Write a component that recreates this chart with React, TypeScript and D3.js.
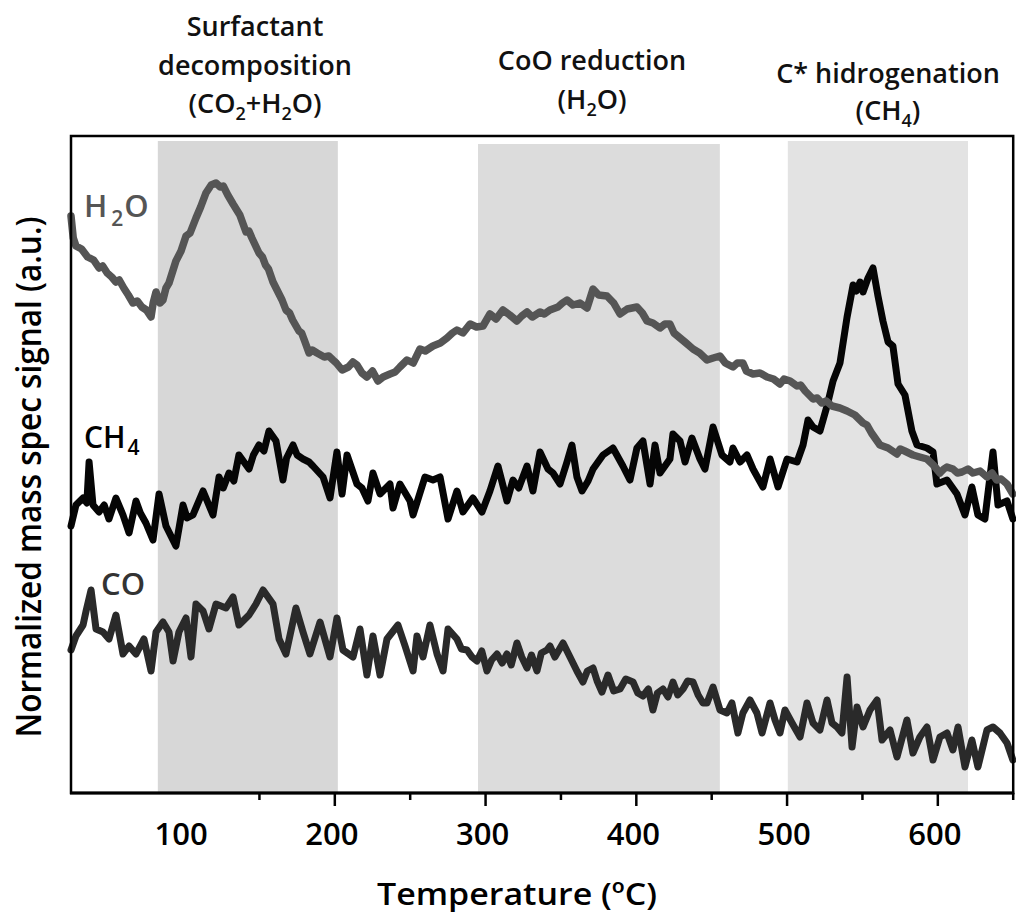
import React from "react";
import * as d3 from "d3";

const W = 1016;
const H = 914;

// Temperature (ºC) vs normalized signal (a.u.)
const h2oData: [number, number][] = [
  [25, 5.77], [26.5, 5.55], [28.3, 5.47], [32, 5.44], [36, 5.36], [40, 5.33], [43.6, 5.25], [46, 5.27], [49, 5.2], [52, 5.16],
  [54.8, 5.11], [57, 5.13], [60, 5.05], [63, 4.98], [66.1, 4.9], [69, 4.92], [72, 4.86], [75, 4.83], [78.1, 4.76], [79.5, 4.9],
  [81.4, 5.01], [84, 4.9], [86, 4.93], [88, 5.05], [90, 5.1], [94.6, 5.32], [98, 5.42], [101.3, 5.57], [104, 5.6], [107.9, 5.75],
  [111, 5.86], [114.5, 6.0], [118, 6.08], [121.2, 6.1], [124, 6.06], [126, 6.07], [129, 5.98], [132.5, 5.89], [137, 5.78],
  [141.1, 5.61], [143, 5.62], [145, 5.55], [149.7, 5.4], [152, 5.36], [154, 5.28], [156, 5.24], [159, 5.11], [163, 4.99],
  [165, 4.93], [167.6, 4.83], [170, 4.8], [172, 4.73], [176.2, 4.62], [178, 4.6], [180, 4.52], [182.9, 4.4], [185, 4.43],
  [188.2, 4.4], [193, 4.36], [196, 4.37], [198.8, 4.33], [201, 4.3], [204.8, 4.23], [209, 4.26], [212, 4.31], [214.7, 4.28],
  [218, 4.2], [221.3, 4.16], [225, 4.22], [228.6, 4.12], [232, 4.16], [236.6, 4.19], [240, 4.21], [243.2, 4.26], [247.9, 4.33],
  [252, 4.3], [256.5, 4.44], [260, 4.42], [265.1, 4.47], [270, 4.5], [274.4, 4.55], [278, 4.6], [281, 4.63], [285, 4.6],
  [289.7, 4.69], [294, 4.66], [298.3, 4.67], [302.9, 4.79], [307, 4.74], [311.5, 4.83], [316, 4.78], [320.8, 4.72],
  [324, 4.77], [327.5, 4.81], [331, 4.76], [336.1, 4.81], [339, 4.79], [342.7, 4.83], [348, 4.86], [351, 4.9], [354, 4.93],
  [358, 4.88], [362.6, 4.9], [367.3, 4.85], [371.3, 5.04], [375, 4.98], [380.5, 4.97], [385, 4.9], [389.2, 4.79], [394, 4.84],
  [400.4, 4.86], [404, 4.8], [407.1, 4.72], [411, 4.7], [415.7, 4.65], [419, 4.69], [422.3, 4.69], [425, 4.6], [429, 4.55],
  [433, 4.5], [437.6, 4.44], [442, 4.4], [446.9, 4.33], [451, 4.35], [455.5, 4.37], [459, 4.3], [464.1, 4.26], [467, 4.3],
  [470.7, 4.3], [473, 4.22], [477.4, 4.19], [482, 4.2], [486.7, 4.16], [491, 4.14], [495.3, 4.09], [498, 4.14], [502, 4.12],
  [506.6, 4.07], [509, 4.08], [512, 4.02], [517.2, 3.94], [520, 3.95], [523, 3.9], [526, 3.92], [529.8, 3.87], [535, 3.85],
  [539.8, 3.82], [545, 3.78], [550.4, 3.7], [553, 3.68], [556, 3.6], [561.6, 3.48], [567, 3.45], [572.9, 3.39], [575, 3.44],
  [578, 3.42], [583.5, 3.38], [588, 3.36], [592.8, 3.34], [597, 3.28], [601.4, 3.2], [604, 3.24], [606, 3.26], [610, 3.24],
  [613, 3.2], [616, 3.21], [620, 3.24], [623.3, 3.2], [628, 3.22], [632.6, 3.16], [636, 3.2], [639, 3.13], [642, 3.14],
  [645.9, 3.09], [649.8, 2.99],
];

const ch4Data: [number, number][] = [
  [25, 2.67], [28.3, 2.88], [33, 2.95], [35.5, 2.9], [37, 3.31], [39.6, 2.88], [43.6, 2.81], [47, 2.88], [50.2, 2.74],
  [54.8, 2.95], [59.5, 2.78], [63.5, 2.6], [68.1, 2.92], [71, 2.8], [74.7, 2.7], [79.4, 2.53], [83.4, 2.99], [88, 2.67],
  [94.6, 2.47], [99.3, 2.88], [102, 2.75], [105.9, 2.78], [112.6, 3.02], [119.2, 2.78], [123.2, 3.16], [126, 3.05],
  [129.8, 3.2], [133, 3.12], [136.4, 3.38], [143.1, 3.24], [146, 3.38], [149.7, 3.48], [153, 3.42], [156.3, 3.62], [161, 3.52],
  [165.6, 3.13], [168, 3.35], [172.3, 3.48], [175, 3.38], [178.9, 3.34], [182.9, 3.31], [185.5, 3.27], [192.2, 3.16],
  [196.8, 2.95], [201.4, 3.41], [204.8, 2.99], [208.1, 3.38], [214.7, 3.09], [218, 3.05], [222, 2.92], [225.3, 3.2], [230, 2.99],
  [236.6, 3.09], [238.6, 2.85], [243.2, 3.09], [249.9, 2.92], [251.9, 2.78], [259.8, 3.16], [265.1, 3.13], [269.8, 3.16],
  [275.1, 2.74], [281, 3.02], [285, 2.81], [291.6, 2.95], [297.6, 2.81], [302.9, 3.02], [308.2, 3.27], [314.2, 2.92],
  [318.2, 3.13], [322, 3.05], [327.5, 3.27], [331.4, 3.02], [336.1, 3.41], [341.4, 3.24], [344.7, 3.2], [349.4, 3.09],
  [354, 3.31], [357.3, 3.48], [360.6, 3.16], [364, 3.02], [368, 3.12], [371.3, 3.24], [377.9, 3.38], [384.5, 3.45],
  [391.1, 3.27], [395.8, 3.13], [400.4, 3.45], [404.4, 3.52], [409.1, 3.09], [412.4, 3.48], [415.7, 3.2], [422.3, 3.34],
  [424.3, 3.59], [429, 3.52], [432.3, 3.31], [436.9, 3.55], [442.2, 3.34], [445.5, 3.24], [450.9, 3.66], [456.8, 3.38],
  [462.1, 3.31], [464.1, 3.45], [468.8, 3.31], [473.4, 3.38], [477.4, 3.24], [484, 3.06], [488.7, 3.34], [494, 3.06],
  [500, 3.34], [506.6, 3.31], [510.6, 3.48], [513.9, 3.73], [517.2, 3.66], [521.8, 3.62], [526.5, 3.87], [530.5, 4.12],
  [535.1, 4.3], [539.8, 4.76], [543.8, 5.08], [546, 5.02], [548.4, 5.11], [550.4, 5.01], [553.7, 5.15], [557, 5.25],
  [560.3, 4.97], [563.6, 4.72], [567, 4.51], [570.2, 4.47], [573.6, 4.09], [578.2, 3.98], [582.8, 3.62], [586.2, 3.48],
  [592.8, 3.45], [596.8, 3.41], [599.4, 3.09], [606.1, 3.13], [612.7, 2.99], [618, 2.78], [622.6, 3.06], [626.6, 2.78],
  [631.2, 2.74], [636.6, 3.41], [639.9, 2.88], [645.9, 2.92], [649.8, 2.74],
];

const coData: [number, number][] = [
  [25, 1.43], [28.3, 1.57], [33, 1.68], [35, 1.82], [38.3, 2.03], [41.6, 1.64], [46.2, 1.61], [50.2, 1.54], [54.8, 1.78],
  [59.5, 1.39], [63.5, 1.47], [68.1, 1.39], [73.4, 1.54], [78.1, 1.22], [81.4, 1.61], [86, 1.71], [90, 1.61], [92.7, 1.32],
  [96.6, 1.61], [101.3, 1.75], [104.6, 1.36], [107.9, 1.89], [112.6, 1.82], [116.5, 1.64], [121.2, 1.89], [127.8, 1.85],
  [132.5, 1.96], [136.4, 1.68], [143.1, 1.78], [147.7, 1.89], [152.4, 2.03], [159, 1.89], [163, 1.54], [167.6, 1.39],
  [174.2, 1.85], [178.9, 1.61], [183.5, 1.39], [190.2, 1.71], [196.8, 1.36], [201.4, 1.75], [205.4, 1.43], [212.1, 1.36],
  [216.7, 1.64], [221.3, 1.18], [225.3, 1.57], [230, 1.18], [234.6, 1.54], [241.9, 1.68], [246.6, 1.47], [251.9, 1.22],
  [254.5, 1.57], [258.5, 1.36], [263.1, 1.68], [267.8, 1.39], [271.8, 1.22], [275.1, 1.64], [281, 1.54], [284, 1.44],
  [287.7, 1.43], [291, 1.36], [294.3, 1.32], [297.5, 1.42], [300.9, 1.22], [304, 1.33], [307.6, 1.39], [311, 1.3],
  [314.2, 1.39], [317, 1.28], [320.8, 1.5], [324, 1.36], [327.5, 1.25], [330.5, 1.38], [334.1, 1.22], [337, 1.4],
  [340.7, 1.43], [342.7, 1.47], [346, 1.36], [351.4, 1.5], [356, 1.36], [360.6, 1.22], [364.6, 1.11], [367.5, 1.22],
  [371.3, 1.25], [374, 1.12], [377.2, 1.01], [381.2, 1.18], [385, 1.02], [389.2, 1.04], [393, 1.14], [397.8, 1.11],
  [401, 1.0], [404.4, 0.97], [408, 1.04], [411, 0.83], [414, 1.0], [417.7, 1.04], [421, 0.96], [424.3, 1.11], [427.5, 0.98],
  [431, 1.04], [434, 1.12], [437.6, 1.11], [441, 0.98], [444.2, 0.9], [446.9, 0.9], [450.9, 1.06], [455.5, 0.83], [460.1, 0.8],
  [463.4, 0.9], [467.4, 0.6], [470.7, 0.8], [475.4, 0.93], [480, 0.8], [483.4, 0.6], [488.7, 0.9], [492, 0.73], [495.3, 0.6],
  [498.6, 0.83], [503.3, 0.7], [508.6, 0.56], [513.2, 0.9], [517.2, 0.7], [521.8, 0.63], [526.5, 0.93], [529.8, 0.7],
  [533.1, 0.66], [536.4, 0.6], [539.8, 1.16], [543.1, 0.46], [546.4, 0.86], [550.4, 0.66], [555, 0.83], [559.7, 0.93],
  [563, 0.53], [568.3, 0.63], [572.9, 0.36], [579.5, 0.73], [583.5, 0.4], [588.1, 0.56], [592.8, 0.66], [596.8, 0.33],
  [601.4, 0.56], [606.1, 0.6], [610, 0.43], [613.4, 0.66], [618, 0.26], [622.6, 0.53], [626.6, 0.26], [632.6, 0.63],
  [636.6, 0.66], [641.2, 0.6], [645.9, 0.5], [649.8, 0.33],
];

// Shaded temperature ranges [from, to, top (a.u.)]
const bandRanges: [number, number, number][] = [
  [82.6, 202, 6.52],
  [295, 455.4, 6.49],
  [500.5, 620, 6.52],
];
const bandColors = ["#d7d7d7", "#dcdcdc", "#e3e3e3"];

const tickLabels = [100, 200, 300, 400, 500, 600];
const tickMarks = [150, 200, 250, 300, 350, 400, 450, 500, 550, 600, 650];

const xDomain: [number, number] = [25, 650];
const yDomain: [number, number] = [0, 6.57];

const FONT = "'Open Sans', 'Noto Sans', sans-serif";

export default function App() {
  const x = d3.scaleLinear().domain(xDomain).range([71, 1013.2]);
  const y = d3.scaleLinear().domain(yDomain).range([793, 136]);
  const line = d3
    .line<[number, number]>()
    .x((d) => x(d[0]))
    .y((d) => y(d[1]))
    .curve(d3.curveLinear);

  const series = [
    { data: coData, color: "#2a2a2a", width: 7 },
    { data: ch4Data, color: "#050505", width: 7 },
    { data: h2oData, color: "#555555", width: 7.5 },
  ];

  const sub = (t: string, size: number, dy: number) => (
    <tspan fontSize={size} dy={dy}>
      {t}
    </tspan>
  );

  return (
    <svg
      width={W}
      height={H}
      viewBox={`0 0 ${W} ${H}`}
      style={{ position: "absolute", left: 0, top: 0, background: "#fff" }}
      fontFamily={FONT}
    >
      <rect x={0} y={0} width={W} height={H} fill="#fff" />
      {bandRanges.map((b, i) => (
        <rect
          key={i}
          x={x(b[0])}
          y={y(b[2])}
          width={x(b[1]) - x(b[0])}
          height={y(0) - y(b[2])}
          fill={bandColors[i]}
        />
      ))}

      {series.map((s, i) => (
        <path
          key={i}
          d={line(s.data) || ""}
          fill="none"
          stroke={s.color}
          strokeWidth={s.width}
          strokeLinejoin="round"
          strokeLinecap="round"
        />
      ))}

      {/* frame */}
      <rect
        x={x(xDomain[0])}
        y={y(yDomain[1])}
        width={x(xDomain[1]) - x(xDomain[0])}
        height={y(0) - y(yDomain[1])}
        fill="none"
        stroke="#000"
        strokeWidth={2.5}
      />
      <line x1={x(xDomain[0]) - 1} x2={x(xDomain[1]) + 1} y1={y(0)} y2={y(0)} stroke="#000" strokeWidth={3} />

      {tickMarks.map((t) => (
        <line
          key={t}
          x1={x(t)}
          x2={x(t)}
          y1={y(0)}
          y2={y(0) + (t % 100 === 0 ? 13 : 7)}
          stroke="#000"
          strokeWidth={2.5}
        />
      ))}
      <g fontWeight={600} fill="#000">
        {tickLabels.map((t) => (
          <text key={t} x={x(t) - 3} y={845} textAnchor="middle" fontSize={31}>
            {t}
          </text>
        ))}

        <text x={517} y={905} textAnchor="middle" fontSize={31} textLength={280} lengthAdjust="spacingAndGlyphs">
          Temperature (ºC)
        </text>
        <text
          transform="translate(41,477) rotate(-90)"
          textAnchor="middle"
          fontSize={35}
          textLength={521}
          lengthAdjust="spacingAndGlyphs"
        >
          Normalized mass spec signal (a.u.)
        </text>

        {/* region titles */}
        <g fontSize={27} fill="#111" textAnchor="middle">
          <text x={255} y={36}>Surfactant</text>
          <text x={255} y={75}>decomposition</text>
          <text x={255} y={113}>
            (CO{sub("2", 18, 7)}
            <tspan dy={-7}>+H</tspan>
            {sub("2", 18, 7)}
            <tspan dy={-7}>O)</tspan>
          </text>
          <text x={592} y={70}>CoO reduction</text>
          <text x={592} y={109}>
            (H{sub("2", 18, 7)}
            <tspan dy={-7}>O)</tspan>
          </text>
          <text x={888} y={83}>C* hidrogenation</text>
          <text x={888} y={120}>
            (CH{sub("4", 18, 7)}
            <tspan dy={-7}>)</tspan>
          </text>
        </g>

        {/* series labels */}
        <text x={84} y={217} fontSize={31} fill="#555">
          H
          <tspan fontSize={21} dx={4} dy={9}>2</tspan>
          <tspan dy={-9} dx={1}>O</tspan>
        </text>
        <text x={84} y={448} fontSize={30} fill="#000">
          CH
          <tspan fontSize={21} dx={2} dy={7}>4</tspan>
        </text>
        <text x={101} y={595} fontSize={31} fill="#333">
          CO
        </text>
      </g>
    </svg>
  );
}
